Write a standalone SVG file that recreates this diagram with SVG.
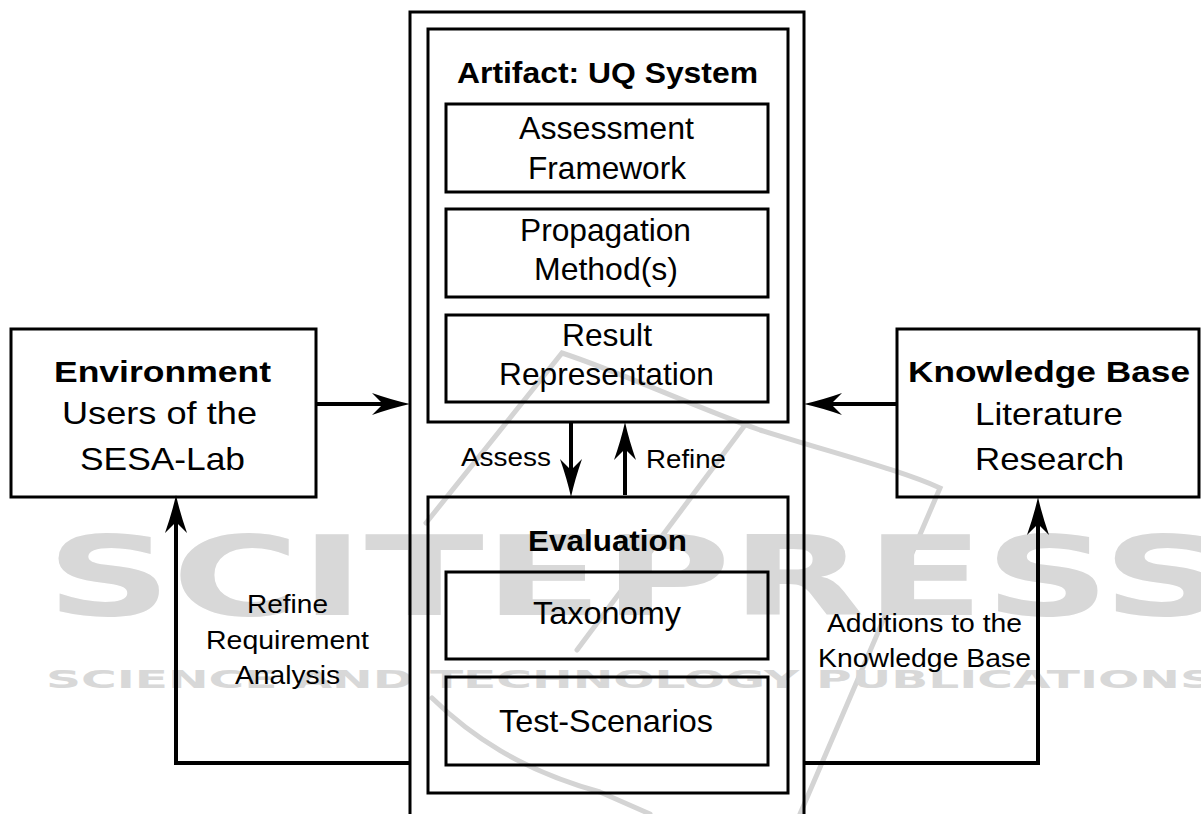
<svg xmlns="http://www.w3.org/2000/svg" width="1201" height="814" viewBox="0 0 1201 814">
  <style>
    .box { fill: none; stroke: #000; stroke-width: 3; }
    .conn { fill: none; stroke: #000; stroke-width: 4; }
    .t { font-family: "Liberation Sans", Arial, sans-serif; fill: #000; }
    .title { font-size: 29px; font-weight: bold; }
    .body { font-size: 32px; }
    .lbl { font-size: 25px; }
    .wm { font-family: "DejaVu Sans", sans-serif; font-weight: bold; fill: #d8d8d8; }
    .wmline { fill: none; stroke: #d4d4d4; stroke-width: 5; stroke-linecap: round; }
  </style>
  <defs>
    <marker id="arrow" markerUnits="userSpaceOnUse" markerWidth="42" markerHeight="26" viewBox="-40 -13 42 26" refX="-26" refY="0" orient="auto" overflow="visible">
      <path d="M0,0 Q-18,-4 -38,-11 L-27,0 L-38,11 Q-18,4 0,0 Z" fill="#000"/>
    </marker>
  </defs>

  <rect width="1201" height="814" fill="#fff"/>

  <!-- background watermark -->
  <g id="watermark">
    <path class="wmline" d="M426,523 L562,353 C620,372 690,405 760,430 C840,455 900,470 940,488 L800,814"/>
    <path class="wmline" d="M745,425 L577,650"/>
    <path class="wmline" d="M432,698 C470,735 520,770 600,792 L650,814"/>
    <text class="wm" x="46" y="615" font-size="110" textLength="1182" lengthAdjust="spacingAndGlyphs">SCITEPRESS</text>
    <text class="wm" x="46" y="688" font-size="25" textLength="1169" lengthAdjust="spacingAndGlyphs">SCIENCE AND TECHNOLOGY PUBLICATIONS</text>
  </g>

  <!-- outer frame around artifact and evaluation -->
  <g id="frame">
    <rect class="box" x="410" y="12" width="394" height="830"/>
  </g>

  <g id="artifact">
    <rect class="box" x="428" y="29" width="360" height="393"/>
    <text class="t title" x="457" y="83" textLength="301" lengthAdjust="spacingAndGlyphs">Artifact: UQ System</text>
  </g>
  <g id="assessment-framework">
    <rect class="box" x="446" y="104" width="322" height="88"/>
    <text class="t body" x="519" y="139" textLength="175" lengthAdjust="spacingAndGlyphs">Assessment</text>
    <text class="t body" x="528" y="179" textLength="158" lengthAdjust="spacingAndGlyphs">Framework</text>
  </g>
  <g id="propagation">
    <rect class="box" x="446" y="209" width="322" height="88"/>
    <text class="t body" x="520" y="241" textLength="171" lengthAdjust="spacingAndGlyphs">Propagation</text>
    <text class="t body" x="534" y="280" textLength="144" lengthAdjust="spacingAndGlyphs">Method(s)</text>
  </g>
  <g id="result">
    <rect class="box" x="446" y="315" width="322" height="87"/>
    <text class="t body" x="562" y="346" textLength="90" lengthAdjust="spacingAndGlyphs">Result</text>
    <text class="t body" x="499" y="385" textLength="215" lengthAdjust="spacingAndGlyphs">Representation</text>
  </g>

  <g id="evaluation">
    <rect class="box" x="428" y="497" width="360" height="296"/>
    <text class="t title" x="528" y="551" textLength="159" lengthAdjust="spacingAndGlyphs">Evaluation</text>
  </g>
  <g id="taxonomy">
    <rect class="box" x="446" y="572" width="322" height="87"/>
    <text class="t body" x="533" y="624" textLength="148" lengthAdjust="spacingAndGlyphs">Taxonomy</text>
  </g>
  <g id="test-scenarios">
    <rect class="box" x="446" y="677" width="322" height="88"/>
    <text class="t body" x="499" y="732" textLength="214" lengthAdjust="spacingAndGlyphs">Test-Scenarios</text>
  </g>

  <g id="environment">
    <rect class="box" x="11" y="329" width="305" height="168"/>
    <text class="t title" x="54" y="382" textLength="217" lengthAdjust="spacingAndGlyphs">Environment</text>
    <text class="t body" x="62" y="424" textLength="195" lengthAdjust="spacingAndGlyphs">Users of the</text>
    <text class="t body" x="80" y="470" textLength="165" lengthAdjust="spacingAndGlyphs">SESA-Lab</text>
  </g>

  <g id="knowledge-base">
    <rect class="box" x="897" y="329" width="302" height="168"/>
    <text class="t title" x="908" y="382" textLength="282" lengthAdjust="spacingAndGlyphs">Knowledge Base</text>
    <text class="t body" x="975" y="425" textLength="148" lengthAdjust="spacingAndGlyphs">Literature</text>
    <text class="t body" x="975" y="470" textLength="149" lengthAdjust="spacingAndGlyphs">Research</text>
  </g>

  <g id="connectors">
    <line class="conn" x1="316" y1="404" x2="384" y2="404" marker-end="url(#arrow)"/>
    <line class="conn" x1="897" y1="404" x2="830" y2="404" marker-end="url(#arrow)"/>
    <line class="conn" x1="571" y1="422" x2="571" y2="471" marker-end="url(#arrow)"/>
    <line class="conn" x1="625" y1="495" x2="625" y2="448" marker-end="url(#arrow)"/>
    <polyline class="conn" points="410,763 176,763 176,521" marker-end="url(#arrow)"/>
    <polyline class="conn" points="804,763 1038,763 1038,523" marker-end="url(#arrow)"/>
  </g>

  <g id="connector-labels">
    <text class="t lbl" x="461" y="466" textLength="90" lengthAdjust="spacingAndGlyphs">Assess</text>
    <text class="t lbl" x="646" y="468" textLength="80" lengthAdjust="spacingAndGlyphs">Refine</text>
    <text class="t lbl" x="247" y="613" textLength="81" lengthAdjust="spacingAndGlyphs">Refine</text>
    <text class="t lbl" x="206" y="649" textLength="163" lengthAdjust="spacingAndGlyphs">Requirement</text>
    <text class="t lbl" x="235" y="684" textLength="105" lengthAdjust="spacingAndGlyphs">Analysis</text>
    <text class="t lbl" x="827" y="632" textLength="195" lengthAdjust="spacingAndGlyphs">Additions to the</text>
    <text class="t lbl" x="818" y="667" textLength="213" lengthAdjust="spacingAndGlyphs">Knowledge Base</text>
  </g>
</svg>
